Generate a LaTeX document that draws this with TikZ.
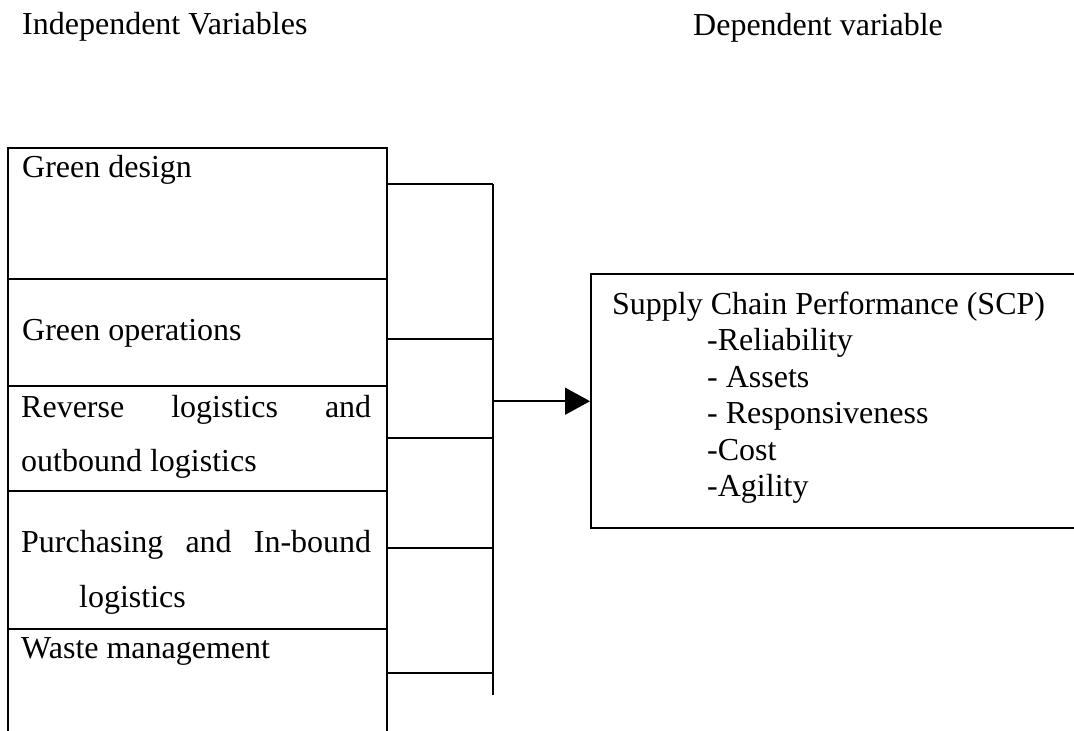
\documentclass[tikz,border=0pt]{standalone}
\usepackage{fontspec}
\setmainfont{Liberation Serif}
\usepackage{tikz}
\usetikzlibrary{arrows.meta,positioning}
\tikzset{varbox/.style={draw, line width=1.6pt, anchor=north west,
    minimum width=379pt, inner sep=0pt},
  txt/.style={anchor=base west, inner sep=0pt},
  link/.style={line width=1.6pt}}

\begin{document}
\begin{tikzpicture}[x=1pt, y=-1pt, font=\fontsize{32}{37}\selectfont]
  \useasboundingbox (0,0) rectangle (1074,731);
  \node[txt] (indep) at (22,34) {Independent Variables};
  \node[txt] (dep) at (693,35) {Dependent variable};
  % independent variables
  \node[varbox, minimum height=131pt] (gd) at (7,147) {};
  \node[varbox, minimum height=107pt] (go) at (7,278) {};
  \node[varbox, minimum height=105pt] (rl) at (7,385) {};
  \node[varbox, minimum height=138pt] (pl) at (7,490) {};
  \node[varbox, minimum height=140pt] (wm) at (7,628) {};
  \node[txt] (gdtext) at (22,177) {Green design};
  \node[txt] (gotext) at (22,340) {Green operations};
  \node[txt] (rltext) at (21,417) {\makebox[350pt][s]{Reverse logistics and}};
  \node[txt] (rltext2) at (21,471) {outbound logistics};
  \node[txt] (pltext) at (21,552) {\makebox[350pt][s]{Purchasing and In-bound}};
  \node[txt] (pltext2) at (79,607) {logistics};
  \node[txt] (wmtext) at (21,658) {Waste management};
  % dependent variable
  \node[draw, line width=2.4pt, anchor=north west, minimum width=500pt,
    minimum height=254pt, inner sep=0pt] (scp) at (590,273) {};
  \node[txt] (scptitle) at (612,314) {Supply Chain Performance (SCP)};
  \foreach \t [count=\i] in {-Reliability, - Assets, - Responsiveness, -Cost, -Agility}
    \node[txt] (item\i) at (707,314+36.5*\i) {\t};
  % connectors
  \coordinate (b1) at (493,184);
  \coordinate (b2) at (493,339);
  \coordinate (b3) at (493,438);
  \coordinate (b4) at (493,548);
  \coordinate (b5) at (493,673);
  \coordinate (bend) at (493,695);
  \draw[link] (gd.east |- b1) -- (b1);
  \draw[link] (go.east |- b2) -- (b2);
  \draw[link] (rl.east |- b3) -- (b3);
  \draw[link] (pl.east |- b4) -- (b4);
  \draw[link] (wm.east |- b5) -- (b5);
  \draw[link] (b1) -- (bend);
  \draw[link, -{Triangle[length=25pt, width=27pt]}] (b1 |- scp.west) -- (scp.west);
\end{tikzpicture}
\end{document}
